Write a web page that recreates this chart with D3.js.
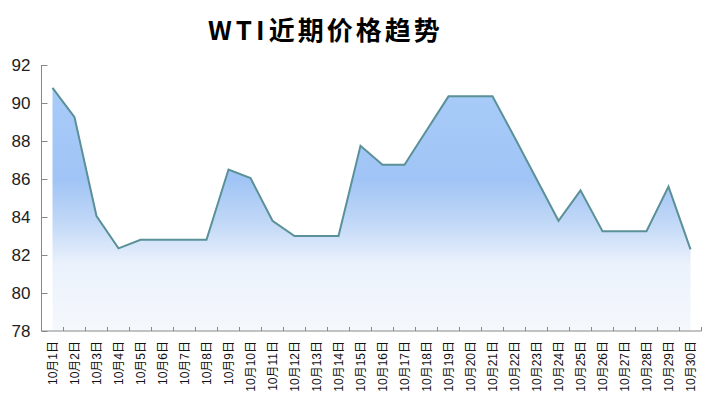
<!DOCTYPE html>
<html>
<head>
<meta charset="utf-8">
<script src="https://cdn.jsdelivr.net/npm/d3@7"></script>
<style>
html,body{margin:0;padding:0;background:#fff;}
svg{display:block;}
</style>
</head>
<body>
<svg id="chart" width="718" height="409"></svg>
<script>
const titleLatin = "WTI";
const titleCJK = "近期价格趋势";
const categories = ["10月1日","10月2日","10月3日","10月4日","10月5日","10月6日","10月7日","10月8日","10月9日","10月10日",
"10月11日","10月12日","10月13日","10月14日","10月15日","10月16日","10月17日","10月18日","10月19日","10月20日",
"10月21日","10月22日","10月23日","10月24日","10月25日","10月26日","10月27日","10月28日","10月29日","10月30日"];
const prices = [90.8,89.25,84.05,82.35,82.8,82.8,82.8,82.8,86.5,86.05,
83.8,83.0,83.0,83.0,87.75,86.75,86.75,88.55,90.35,90.35,
90.35,88.2,86.0,83.8,85.4,83.25,83.25,83.25,85.6,82.3];
const yTicks = [78,80,82,84,86,88,90,92];

(function(){
const svg = d3.select("#chart");
const mLeft = 41.5, mRight = 701.5, mTop = 65, mBottom = 331;

const x = d3.scaleBand().domain(categories).range([mLeft, mRight]).padding(0);
const y = d3.scaleLinear().domain([78, 92]).range([mBottom, mTop]);

const defs = svg.append("defs");
const grad = defs.append("linearGradient").attr("id","areaGrad")
  .attr("gradientUnits","userSpaceOnUse").attr("x1",0).attr("x2",0)
  .attr("y1",mTop).attr("y2",mBottom);
[[0,"#aacdfa"],[0.43,"#a0c4f5"],[0.6,"#c3d9f7"],[0.75,"#ebf2fc"],[1,"#f5f8fc"]].forEach(s=>{
  grad.append("stop").attr("offset",s[0]).attr("stop-color",s[1]);
});

const cx = d => x(d) + x.bandwidth()/2;

const area = d3.area()
  .x((d,i)=>cx(categories[i]))
  .y0(mBottom)
  .y1(d=>y(d));
svg.append("path").datum(prices).attr("d",area).attr("fill","url(#areaGrad)");

const line = d3.line()
  .x((d,i)=>cx(categories[i]))
  .y(d=>y(d));
svg.append("path").datum(prices).attr("d",line)
  .attr("fill","none").attr("stroke","#5a9199").attr("stroke-width",2)
  .attr("stroke-linejoin","miter");

// Y axis
const yAxis = d3.axisLeft(y).tickValues(yTicks).tickSize(-6).tickPadding(12).tickFormat(d3.format("d"));
const gy = svg.append("g").attr("transform",`translate(${mLeft},0)`).call(yAxis);
gy.select(".domain").attr("stroke","#888").attr("d",`M0,${mTop}V${mBottom}`);
gy.selectAll(".tick line").attr("stroke","#888");
gy.selectAll(".tick text").attr("font-family","'Liberation Sans', Arial, sans-serif")
  .attr("font-size",17).attr("fill","#222").attr("x",-11);

// X axis
const xAxis = d3.axisBottom(x).tickSize(0).tickPadding(0);
const gx = svg.append("g").attr("transform",`translate(0,${mBottom})`).call(xAxis);
gx.select(".domain").attr("stroke","#888").attr("d",`M${mLeft},0H${mRight}`);
gx.selectAll(".tick text")
  .attr("font-family","'Liberation Sans', 'Noto Sans CJK SC', sans-serif")
  .attr("font-size",12).attr("fill","#111")
  .attr("transform","rotate(-90)")
  .attr("x",-10).attr("y",0).attr("dy","0.35em")
  .attr("text-anchor","end");
// band boundary ticks
const bounds = categories.map(c=>x(c)+x.bandwidth());
svg.append("g").selectAll("line").data(bounds).join("line")
  .attr("x1",d=>d).attr("x2",d=>d).attr("y1",mBottom).attr("y2",mBottom-4)
  .attr("stroke","#888");

// Title
const t = svg.append("text").attr("x",208).attr("y",40).attr("text-anchor","start")
  .attr("font-family","'Noto Sans CJK SC', sans-serif").attr("font-weight","bold")
  .attr("font-size",26).attr("fill","#000");
t.append("tspan").attr("letter-spacing",4).text(titleLatin);
t.append("tspan").attr("letter-spacing",3).text(titleCJK);
})();
</script>
</body>
</html>
